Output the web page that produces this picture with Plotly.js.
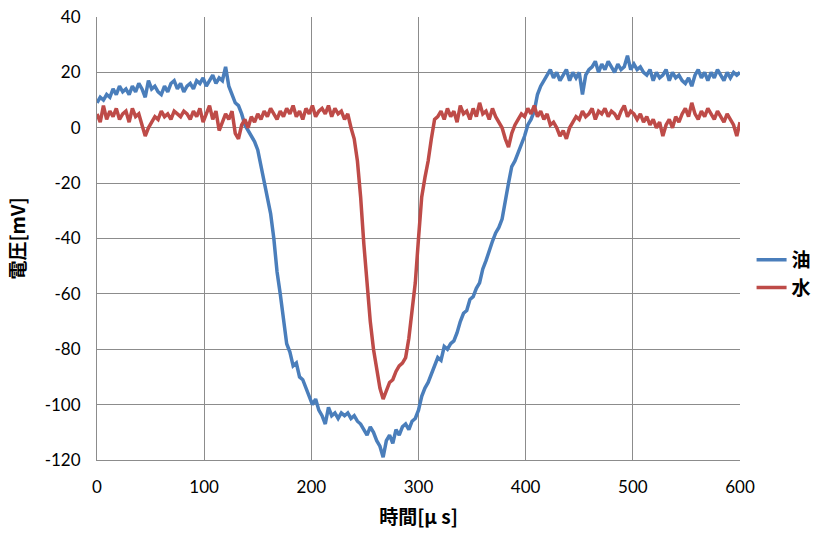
<!DOCTYPE html>
<html>
<head>
<meta charset="utf-8">
<script src="https://cdn.plot.ly/plotly-3.0.1.min.js"></script>
<style>html,body{margin:0;padding:0;background:#fff;}#chart{width:824px;height:536px;}</style>
</head>
<body>
<div id="chart"></div>
<script>
// time axis: 0..600 μs, sample step 3 μs
const T0 = 0;
const DT = 3;
const seriesNames = ["油", "水"];
const xTicks = [0, 100, 200, 300, 400, 500, 600];
const yTicks = [40, 20, 0, -20, -40, -60, -80, -100, -120];

const oil = [
 9, 11, 10, 12, 11, 14, 12, 15, 13, 14,
 12, 15, 13, 16, 14, 11, 17, 14, 15, 13,
 12, 15, 13, 16, 17, 14, 16, 13, 15, 16,
 14, 17, 16, 18, 15, 17, 19, 16, 18, 17,
 22, 15, 12, 9, 8, 5, 1, -1, -3, -5,
 -8, -14, -20, -25, -31, -40, -52, -60, -68, -78,
 -81, -86, -85, -90, -91, -94, -97, -100, -98, -102,
 -104, -107, -101, -104, -103, -105, -103, -104, -103, -105,
 -104, -106, -107, -109, -111, -108, -110, -113, -115, -119,
 -113, -111, -114, -109, -111, -108, -107, -109, -106, -105,
 -102, -97, -94, -92, -89, -86, -83, -84, -79, -80,
 -78, -77, -74, -70, -67, -66, -62, -61, -58, -56,
 -51, -48, -44, -41, -38, -36, -33, -26, -20, -14,
 -12, -9, -6, -3, 1, 3, 6, 12, 15, 17,
 19, 21, 18, 20, 17, 19, 21, 17, 20, 18,
 20, 12, 19, 21, 22, 24, 20, 23, 21, 24,
 22, 20, 23, 21, 22, 26, 21, 23, 21, 22,
 20, 19, 21, 17, 20, 18, 19, 21, 17, 20,
 18, 19, 17, 16, 18, 15, 19, 21, 18, 20,
 17, 20, 18, 21, 19, 17, 20, 18, 20, 19,
 20
];

const water = [
 5, 2, 8, 3, 6, 4, 7, 3, 5, 6,
 2, 7, 4, 5, 1, -3, 0, 2, 4, 3,
 6, 4, 5, 3, 6, 5, 4, 6, 5, 3,
 6, 4, 7, 2, 5, 8, 3, 6, -1, 2,
 5, 3, 6, -2, -4, 1, 3, 0, 4, 2,
 5, 3, 6, 4, 7, 5, 3, 6, 4, 7,
 5, 8, 4, 6, 3, 7, 5, 8, 4, 6,
 7, 5, 8, 4, 7, 5, 6, 3, 5, 0,
 -4, -12, -25, -42, -57, -70, -80, -88, -94, -98,
 -95, -92, -91, -88, -86, -85, -83, -76, -66, -56,
 -40, -25, -18, -12, -4, 3, 4, 6, 3, 7,
 4, 6, 2, 8, 5, 6, 3, 7, 4, 9,
 5, 6, 3, 7, 4, 2, 0, -4, -7, -2,
 1, 3, 5, 4, 7, 5, 8, 4, 6, 3,
 5, 1, 2, 0, -3, -1, -4, 0, 2, 4,
 3, 6, 4, 5, 7, 3, 6, 5, 7, 4,
 6, 5, 3, 6, 8, 4, 6, 5, 3, 5,
 2, 4, 1, 3, 0, 2, -3, 1, 3, 0,
 4, 2, 5, 7, 4, 9, 5, 3, 6, 4,
 7, 5, 3, 6, 4, 2, 5, 3, 1, -3,
 2
];

const colors = ["#4A7EBB", "#BE4B48"];

const traces = [oil, water].map((vals, i) => ({
  type: "scatter",
  mode: "lines",
  name: seriesNames[i],
  x0: T0,
  dx: DT,
  y: vals,
  line: {color: colors[i], width: 3.5}
}));

const tickFont = {family: "Lato, 'Liberation Sans', sans-serif", size: 17, color: "#000"};
const titleFont = {family: "'Noto Sans CJK JP', sans-serif", size: 19, color: "#000", weight: "bold"};

const layout = {
  width: 824,
  height: 536,
  margin: {l: 97, r: 84, t: 17, b: 76, autoexpand: false},
  paper_bgcolor: "#fff",
  plot_bgcolor: "#fff",
  showlegend: true,
  legend: {
    x: 1.018, y: 0.42, xanchor: "left", yanchor: "middle",
    font: {family: "'Noto Sans CJK JP', sans-serif", size: 19, color: "#000", weight: "bold"},
    bgcolor: "rgba(0,0,0,0)", itemwidth: 30, tracegroupgap: 4
  },
  xaxis: {
    range: [0, 600],
    tickvals: xTicks,
    ticktext: xTicks.map(String),
    showgrid: true, gridcolor: "#8c8c8c", gridwidth: 1,
    showline: true, linecolor: "#8c8c8c", linewidth: 1,
    zeroline: false,
    ticks: "", ticklen: 0,
    ticklabelstandoff: 12,
    tickfont: tickFont,
    title: {text: "時間[μ s]", font: titleFont, standoff: 14}
  },
  yaxis: {
    range: [-120, 40],
    tickvals: yTicks,
    ticktext: yTicks.map(String),
    showgrid: true, gridcolor: "#8c8c8c", gridwidth: 1,
    showline: true, linecolor: "#8c8c8c", linewidth: 1,
    zeroline: false,
    ticks: "", ticklen: 0,
    ticklabelstandoff: 12,
    tickfont: tickFont,
    title: {text: "電圧[mV]", font: titleFont, standoff: 14}
  }
};

Plotly.newPlot("chart", traces, layout, {staticPlot: true, displayModeBar: false});
</script>
</body>
</html>
